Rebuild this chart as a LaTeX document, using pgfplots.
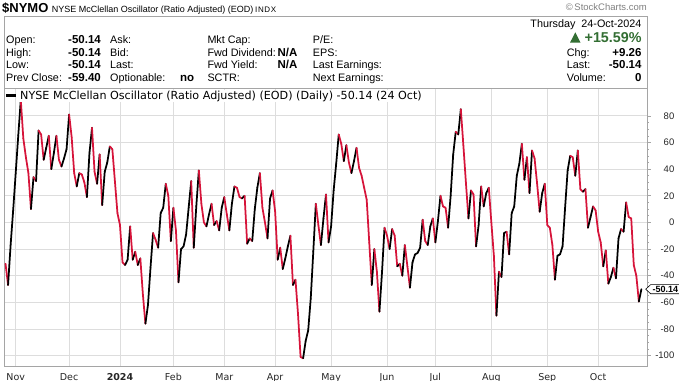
\documentclass[border=0pt]{standalone}
\usepackage{fontspec}
\setmainfont{Liberation Sans}
\newfontfamily\dvs{DejaVu Sans}
\newfontfamily\indx[LetterSpace=8]{Liberation Sans}
\usepackage{pgfplots}
\usepackage{pgfplotstable}
\pgfplotsset{compat=1.18}
\definecolor{crim}{RGB}{214,20,58}
\definecolor{upg}{RGB}{51,110,51}
\definecolor{gridc}{RGB}{221,221,221}
\definecolor{axc}{RGB}{165,165,165}
\newcommand\fs[1]{\fontsize{#1bp}{#1bp}\selectfont}

% i = trading day index (0 = 1 Nov 2023), v = value, c = 1 when the next close is lower
\pgfplotstableread{
i v c
-4 -31 1
-3 -47 0
-2 -17 0
-1 9 0
0 37 0
1 65 0
2 92 1
3 63 1
4 49 1
5 37 1
6 10 0
7 34 1
8 31 0
9 69 1
10 66 1
11 47 0
12 56 0
13 65 1
14 40 0
15 52 0
16 65 1
17 47 1
18 42 0
19 48 0
20 55 0
21 81 1
22 64 1
23 37 1
24 27 0
25 37 1
26 36 1
27 30 1
28 19 0
29 52 0
30 71 1
31 38 1
32 29 0
33 51 1
34 13 0
35 38 0
36 45 0
37 57 1
38 55 1
39 31 1
40 7 1
41 -2 1
42 -30 1
43 -32 0
44 -28 0
45 -3 1
46 -28 0
47 -22 1
48 -32 0
49 -27 1
50 -54 1
51 -76 0
52 -62 0
53 -34 0
54 -8 1
55 -13 1
56 -19 0
57 7 0
58 11 0
59 29 1
60 20 1
61 -14 0
62 11 1
63 -6 1
64 -45 0
65 -20 0
66 -18 0
67 -9 0
68 11 0
69 31 1
70 -19 0
71 12 0
72 39 1
73 14 1
74 0 1
75 -3 0
76 6 0
77 14 1
78 -2 0
79 1 1
80 -6 0
81 11 0
82 19 1
83 6 1
84 -6 0
85 14 0
86 27 1
87 26 1
88 19 1
89 18 0
90 20 1
91 -16 0
92 -12 1
93 -14 0
94 10 0
95 26 0
96 37 1
97 11 1
98 0 1
99 -12 0
100 18 0
101 24 1
102 8 1
103 -28 0
104 -19 1
105 -35 0
106 -27 0
107 -18 0
108 -10 1
109 -47 0
110 -43 1
111 -69 1
112 -101 1
113 -102 0
114 -89 0
115 -81 0
116 -57 0
117 -22 0
118 14 1
119 -2 1
120 -17 0
121 3 0
122 21 1
123 -15 0
124 -3 0
125 24 0
126 44 0
127 66 1
128 59 1
129 46 0
130 58 1
131 45 1
132 37 0
133 46 0
134 56 1
135 41 1
136 35 1
137 26 1
138 17 1
139 -15 1
140 -47 0
141 -20 1
142 -37 1
143 -67 0
144 -38 0
145 -4 1
146 -10 1
147 -20 0
148 -5 1
149 -10 1
150 -33 0
151 -31 1
152 -40 0
153 -17 1
154 -33 1
155 -49 0
156 -30 0
157 -24 0
158 -23 0
159 -19 0
160 2 1
161 -14 1
162 -17 0
163 -3 0
164 3 1
165 -15 0
166 1 0
167 20 1
168 12 1
169 11 1
170 -4 0
171 20 0
172 51 0
173 68 1
174 66 0
175 85 1
176 58 1
177 30 1
178 3 0
179 24 1
180 21 1
181 -18 0
182 -2 0
183 27 1
184 12 0
185 22 0
186 26 1
187 0 1
188 -25 1
189 -70 0
190 -37 1
191 -41 0
192 -8 0
193 -7 1
194 -24 0
195 7 0
196 12 0
197 35 0
198 44 0
199 59 1
200 32 0
201 49 1
202 22 0
203 54 1
204 48 1
205 29 1
206 8 0
207 22 0
208 29 1
209 -2 1
210 -4 1
211 -17 1
212 -43 0
213 -25 0
214 -24 0
215 -18 0
216 11 0
217 39 0
218 50 1
219 49 1
220 35 0
221 54 1
222 25 1
223 23 0
224 25 1
225 -4 0
226 4 0
227 12 1
228 9 1
229 -7 1
230 -15 1
231 -33 0
232 -21 1
233 -46 0
234 -41 0
235 -34 1
236 -42 0
237 -12 0
238 -5 1
239 -7 0
240 15 1
241 4 1
242 3 1
243 -32 1
244 -40 1
245 -59.40 0
246 -50.14 0
}\nymo

\begin{document}
\begin{tikzpicture}
\useasboundingbox (0,0) rectangle (679bp,-381bp);
\begin{axis}[
  at={(4bp,-88bp)}, anchor=north west,
  scale only axis, width=643bp, height=278bp,
  xmin=-4.6, xmax=248.2, ymin=-107.8, ymax=100.9,
  axis line style={axc, line width=0.8bp},
  xtick={0,21,41,62,82,102,124,146,165,187,209,229},
  xticklabels={Nov,Dec,\textbf{2024},Feb,Mar,Apr,May,Jun,Jul,Aug,Sep,Oct},
  xtick style={draw=none},
  xticklabel style={font=\dvs\fs{9.5}, text=black!85, anchor=base, inner sep=0pt, yshift=-10.7bp},
  ytick={-100,-80,...,80},
  ytick pos=right, yticklabel pos=right,
  minor y tick num=3,
  tick align=outside,
  major tick length=3.5bp, minor tick length=2bp,
  ytick style={axc, line width=0.6bp},
  yticklabel style={font=\fs{9.5}, text=black!85, anchor=east, inner sep=0pt, xshift=24bp},
  /pgf/number format/assume math mode=true,
  grid=major, grid style={gridc, line width=0.8bp},
  colormap={rb}{color(0)=(black) color(1)=(crim)},
  point meta min=0, point meta max=1,
]
\addplot[mesh, shader=flat corner, point meta=explicit, line width=1.75bp, line join=round, line cap=round] table[x=i, y=v, meta=c] {\nymo};
\coordinate (lv) at (axis cs:248.2,-50.14);
\end{axis}
% last value tag
\draw[black, fill=white, line width=0.6bp] ([xshift=-1.3bp]lv) -- ++(5bp,4.6bp) -- ++(40bp,0) -- ++(0,-9.2bp) -- ++(-40bp,0) -- cycle;
\node[anchor=west, inner sep=0pt, font=\bfseries\fs{9}] at ([xshift=5.3bp]lv) {-50.14};
\begin{scope}[x=1bp,y=-1bp]
% title line
\node[anchor=base west, inner sep=0pt, font=\bfseries\fs{13}] at (2,12.5) {\$NYMO};
\node[anchor=base west, inner sep=0pt, font=\fs{9}] at (51.7,12.5) {NYSE McClellan Oscillator (Ratio Adjusted) (EOD)};
\node[anchor=base west, inner sep=0pt, font=\indx\fs{8}] at (255,12.5) {INDX};
\node[anchor=base east, inner sep=0pt, font=\fs{9.5}, text=gray] at (647,10.5) {©\,StockCharts.com};
% info box
\draw[axc, line width=0.8bp] (4,16) rectangle (647,88);
\foreach \t/\yy in {Open:/43.3, High:/56, Low:/68.7, Prev Close:/81.3}
  \node[anchor=base west, inner sep=0pt, font=\fs{10.8}] at (6,\yy) {\t};
\foreach \t/\yy in {-50.14/43.3, -50.14/56, -50.14/68.7, -59.40/81.3}
  \node[anchor=base east, inner sep=0pt, font=\bfseries\fs{11.5}] at (101,\yy) {\t};
\foreach \t/\yy in {Ask:/43.3, Bid:/56, Last:/68.7, Optionable:/81.3}
  \node[anchor=base west, inner sep=0pt, font=\fs{10.8}] at (110,\yy) {\t};
\node[anchor=base east, inner sep=0pt, font=\bfseries\fs{11.5}] at (194.3,81.3) {no};
\foreach \t/\yy in {Mkt Cap:/43.3, Fwd Dividend:/56, Fwd Yield:/68.7, SCTR:/81.3}
  \node[anchor=base west, inner sep=0pt, font=\fs{10.8}] at (207.3,\yy) {\t};
\foreach \yy in {56,68.7}
  \node[anchor=base east, inner sep=0pt, font=\bfseries\fs{11.5}] at (297.7,\yy) {N/A};
\node[anchor=base west, inner sep=0pt, font=\fs{10.8}] at (312.7,43.3) {P/E:};
\node[anchor=base west, inner sep=0pt, font=\fs{10.8}] at (312.7,56) {EPS:};
\node[anchor=base west, inner sep=0pt, font=\fs{10.8}] at (312.7,68.7) {Last Earnings:};
\node[anchor=base west, inner sep=0pt, font=\fs{10.8}] at (312.7,81.3) {Next Earnings:};
\node[anchor=base east, inner sep=0pt, font=\fs{10.8}] at (641.7,27.6) {Thursday\ \ 24-Oct-2024};
\fill[upg] (570,42.7) -- (580.6,42.7) -- (575.3,32.3) -- cycle;
\node[anchor=base east, inner sep=0pt, font=\bfseries\fs{14.3}, text=upg] at (641.7,42.7) {+15.59\%};
\node[anchor=base west, inner sep=0pt, font=\fs{10.8}] at (566.7,56) {Chg:};
\node[anchor=base east, inner sep=0pt, font=\bfseries\fs{11.5}] at (641.7,56) {+9.26};
\node[anchor=base west, inner sep=0pt, font=\fs{10.8}] at (566.7,68.7) {Last:};
\node[anchor=base east, inner sep=0pt, font=\bfseries\fs{11.5}] at (641.7,68.7) {-50.14};
\node[anchor=base west, inner sep=0pt, font=\fs{10.8}] at (566.7,81.3) {Volume:};
\node[anchor=base east, inner sep=0pt, font=\bfseries\fs{11.5}] at (641.7,81.3) {0};
% legend
\node[anchor=base west, inner sep=1bp, fill=white, font=\dvs\fs{11.15}] at (19,99) {NYSE McClellan Oscillator (Ratio Adjusted) (EOD) (Daily) -50.14 (24 Oct)};
\draw[black, line width=2.6bp] (6,95.5) -- (16,95.5);
\end{scope}
\end{tikzpicture}
\end{document}
